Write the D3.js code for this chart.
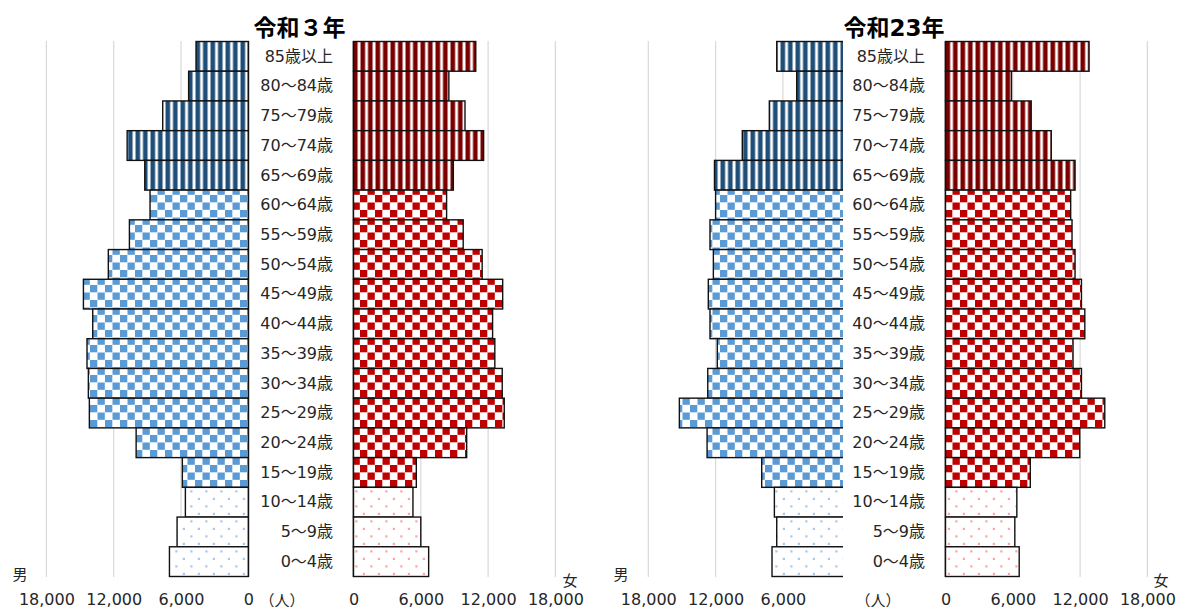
<!DOCTYPE html>
<html><head><meta charset="utf-8">
<script src="https://cdn.jsdelivr.net/npm/d3@7"></script>
<style>
html,body{margin:0;padding:0;background:#fff;}
text{font-family:"DejaVu Sans","Noto Sans CJK JP",sans-serif;}
</style></head>
<body><svg id="c" width="1178" height="610"></svg>
<script>
const ages = ["85歳以上","80～84歳","75～79歳","70～74歳","65～69歳","60～64歳","55～59歳","50～54歳","45～49歳","40～44歳","35～39歳","30～34歳","25～29歳","20～24歳","15～19歳","10～14歳","5～9歳","0～4歳"];
const groups = ["old","old","old","old","old","work","work","work","work","work","work","work","work","work","work","young","young","young"];
const maleR3   = [4660,5320,7630,10800,9230,8760,10600,12480,14700,13870,14380,14260,14170,10000,5880,5610,6350,7030];
const femaleR3 = [10900,8500,9940,11600,8900,8300,9780,11470,13300,12400,12600,13260,13440,10090,5600,5300,6000,6700];
const maleR23   = [6550,4770,7210,9620,12100,12000,12500,12200,12650,12500,11850,12700,15230,12760,7890,6760,6550,6970];
const femaleR23 = [12800,5880,7640,9430,11550,11160,11280,11550,12120,12420,11370,12120,14200,11970,7560,6360,6180,6570];
const gridTicks = [6000,12000,18000];
const tickLabels = [0,6000,12000,18000];
const titles = ["令和３年","令和23年"];

const svg = d3.select("#c");
const defs = svg.append("defs");

function stripe(id,color){
  const p = defs.append("pattern").attr("id",id).attr("patternUnits","userSpaceOnUse").attr("width",7.5).attr("height",10);
  p.append("rect").attr("width",7.5).attr("height",10).attr("fill","#fff");
  p.append("rect").attr("x",0.5).attr("width",4.6).attr("height",10).attr("fill",color);
}
function checker(id,color){
  const p = defs.append("pattern").attr("id",id).attr("patternUnits","userSpaceOnUse").attr("width",15).attr("height",15);
  p.append("rect").attr("width",15).attr("height",15).attr("fill","#fff");
  p.append("rect").attr("x",0).attr("y",0).attr("width",7.3).attr("height",7.3).attr("fill",color);
  p.append("rect").attr("x",7.5).attr("y",7.5).attr("width",7.3).attr("height",7.3).attr("fill",color);
}
function dots(id,color){
  const p = defs.append("pattern").attr("id",id).attr("patternUnits","userSpaceOnUse").attr("width",15).attr("height",15);
  p.append("rect").attr("width",15).attr("height",15).attr("fill","#fff");
  p.append("rect").attr("x",2.8).attr("y",2.8).attr("width",2.2).attr("height",2.2).attr("fill",color);
  p.append("rect").attr("x",10.3).attr("y",10.3).attr("width",2.2).attr("height",2.2).attr("fill",color);
}
stripe("m-old","#1F4E79"); checker("m-work","#5B9BD5"); dots("m-young","#A9C7EE");
stripe("f-old","#7A0000"); checker("f-work","#C00000"); dots("f-young","#FFA3A3");

const y = d3.scaleBand().domain(ages).range([41.5,576.5]).padding(0);
const pxPer6000 = 67.3;

const panels = [
  {male:maleR3,female:femaleR3,m0:248.3,f0:353.5,labelX:333,title:titles[0],titleX:299.5,clip:null,unitX:282,maleZeroTick:true,manX:20,womanX:570},
  {male:maleR23,female:femaleR23,m0:850.2,f0:945.5,labelX:925,title:titles[1],titleX:894,clip:843,unitX:878,maleZeroTick:false,manX:621,womanX:1161}
];

panels.forEach((P,pi)=>{
  const xm = d3.scaleLinear().domain([0,18000]).range([P.m0,P.m0-pxPer6000*3]);
  const xf = d3.scaleLinear().domain([0,18000]).range([P.f0,P.f0+pxPer6000*3]);
  const g = svg.append("g");
  g.selectAll(".gm").data(gridTicks).join("line")
    .attr("x1",d=>xm(d)).attr("x2",d=>xm(d)).attr("y1",41).attr("y2",577)
    .attr("stroke","#d9d9d9").attr("stroke-width",1.2);
  g.selectAll(".gf").data(gridTicks).join("line")
    .attr("x1",d=>xf(d)).attr("x2",d=>xf(d)).attr("y1",41).attr("y2",577)
    .attr("stroke","#d9d9d9").attr("stroke-width",1.2);
  let mg = g.append("g");
  if(P.clip){
    defs.append("clipPath").attr("id","clip"+pi).append("rect").attr("x",0).attr("y",0).attr("width",P.clip).attr("height",610);
    mg.attr("clip-path","url(#clip"+pi+")");
  }
  mg.append("line").attr("x1",P.m0+0.5).attr("x2",P.m0+0.5).attr("y1",41).attr("y2",577).attr("stroke","#bfbfbf").attr("stroke-width",2);
  mg.selectAll("rect").data(P.male).join("rect")
    .attr("x",d=>xm(d)).attr("y",(d,i)=>y(ages[i]))
    .attr("width",d=>P.m0-xm(d)).attr("height",y.bandwidth())
    .attr("fill",(d,i)=>"url(#m-"+groups[i]+")")
    .attr("stroke","#111").attr("stroke-width",1.4);
  const fg = g.append("g");
  fg.append("line").attr("x1",P.f0-0.5).attr("x2",P.f0-0.5).attr("y1",41).attr("y2",577).attr("stroke","#bfbfbf").attr("stroke-width",2);
  fg.selectAll("rect").data(P.female).join("rect")
    .attr("x",P.f0).attr("y",(d,i)=>y(ages[i]))
    .attr("width",d=>xf(d)-P.f0).attr("height",y.bandwidth())
    .attr("fill",(d,i)=>"url(#f-"+groups[i]+")")
    .attr("stroke","#111").attr("stroke-width",1.4);
  g.selectAll(".lab").data(ages).join("text")
    .attr("x",P.labelX).attr("y",d=>y(d)+y.bandwidth()/2)
    .attr("dy","0.33em").attr("text-anchor","end")
    .attr("font-size",16).attr("fill","#262626").text(d=>d);
  g.append("text").attr("x",P.titleX).attr("y",36).attr("text-anchor","middle")
    .attr("font-size",23).attr("font-weight","bold").attr("fill","#000").text(P.title);
  const fmt = d3.format(",");
  const axM = d3.axisBottom(xm).tickValues(P.maleZeroTick?tickLabels:tickLabels.slice(1)).tickSize(0).tickPadding(0).tickFormat(fmt);
  const axF = d3.axisBottom(xf).tickValues(tickLabels).tickSize(0).tickPadding(0).tickFormat(fmt);
  [axM,axF].forEach(ax=>{
    const a = g.append("g").attr("transform","translate(0,594)").call(ax);
    a.select(".domain").remove();
    a.selectAll("text").attr("font-size",16).attr("fill","#262626")
      .attr("font-family","'DejaVu Sans','Noto Sans CJK JP',sans-serif");
  });
  g.append("text").attr("x",P.unitX).attr("y",606).attr("text-anchor","middle")
    .attr("font-size",15).attr("fill","#262626").text("（人）");
  g.append("text").attr("x",P.manX).attr("y",580).attr("text-anchor","middle")
    .attr("font-size",15).attr("fill","#262626").text("男");
  g.append("text").attr("x",P.womanX).attr("y",586).attr("text-anchor","middle")
    .attr("font-size",15).attr("fill","#262626").text("女");
});
</script></body></html>
